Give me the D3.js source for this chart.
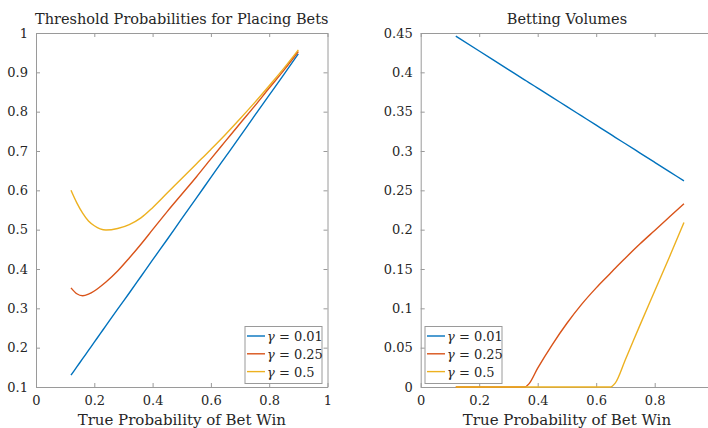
<!DOCTYPE html>
<html>
<head>
<meta charset="utf-8">
<script src="https://cdn.jsdelivr.net/npm/d3@7"></script>
<style>
  body { margin: 0; background: #fff; }
  .axis path, .axis line { stroke: #9a9a9a; }
</style>
</head>
<body>
<svg id="chart" width="708" height="428"></svg>
<script>
// series names + colours (matlab defaults)
var seriesNames = ["0.01", "0.25", "0.5"];
var seriesColors = ["#0072BD", "#D95319", "#EDB120"];

// left panel: threshold probabilities
var thrX = [0.12, 0.14, 0.16, 0.18, 0.2, 0.22, 0.24, 0.28, 0.32, 0.36, 0.4, 0.45, 0.5, 0.55, 0.6, 0.65, 0.7, 0.75, 0.8, 0.85, 0.9];
var thrLow = [0.130, 0.151, 0.172, 0.193, 0.214, 0.235, 0.256, 0.298, 0.339, 0.381, 0.423, 0.475, 0.528, 0.580, 0.633, 0.685, 0.737, 0.790, 0.842, 0.894, 0.947];
var thrMid = [0.352, 0.337, 0.332, 0.336, 0.344, 0.355, 0.367, 0.395, 0.428, 0.463, 0.500, 0.546, 0.590, 0.634, 0.680, 0.725, 0.770, 0.814, 0.860, 0.905, 0.953];
var thrHigh = [0.600, 0.568, 0.542, 0.522, 0.510, 0.502, 0.499, 0.503, 0.513, 0.530, 0.556, 0.593, 0.630, 0.667, 0.704, 0.742, 0.782, 0.823, 0.866, 0.910, 0.957];

// right panel: betting volumes
var volX = [0.12, 0.2, 0.3, 0.355, 0.37, 0.4, 0.45, 0.5, 0.55, 0.6, 0.647, 0.665, 0.7, 0.75, 0.8, 0.85, 0.9];
var volLow = [0.446, 0.4271, 0.4035, 0.3905, 0.3870, 0.3799, 0.3681, 0.3564, 0.3446, 0.3328, 0.3217, 0.3174, 0.3092, 0.2974, 0.2856, 0.2738, 0.262];
var volMid = [0, 0, 0, 0, 0.004, 0.024, 0.054, 0.081, 0.105, 0.126, 0.144, 0.151, 0.164, 0.182, 0.199, 0.216, 0.233];
var volHigh = [0, 0, 0, 0, 0, 0, 0, 0, 0, 0, 0, 0.005, 0.035, 0.079, 0.122, 0.165, 0.209];

var xTicks = [0, 0.2, 0.4, 0.6, 0.8, 1];
var thrTicks = [0.1, 0.2, 0.3, 0.4, 0.5, 0.6, 0.7, 0.8, 0.9, 1];
var volTicks = [0, 0.05, 0.1, 0.15, 0.2, 0.25, 0.3, 0.35, 0.4, 0.45];

var FONT = "DejaVu Serif";
var W = 708;

var svg = d3.select("#chart").attr("font-family", FONT);
var fmt = function(d) { return String(+d.toFixed(2)); };

function drawPanel(opts) {
    var x = d3.scaleLinear().domain([0, 1]).range([opts.left, opts.right]);
    var y = d3.scaleLinear().domain(opts.yDomain).range([387, 33]);
    var g = svg.append("g");

    // labels past the page edge are not shown in the original
    var xFmt = function(d) { return x(d) > W - 4 ? "" : fmt(d); };

    // box axes, ticks point inward
    g.append("g").attr("class", "axis").attr("transform", "translate(0,387)")
        .call(d3.axisBottom(x).tickValues(xTicks).tickFormat(xFmt).tickSizeInner(-4).tickSizeOuter(0).tickPadding(9));
    g.append("g").attr("class", "axis").attr("transform", "translate(0,33)")
        .call(d3.axisTop(x).tickValues(xTicks).tickFormat("").tickSizeInner(-4).tickSizeOuter(0));
    g.append("g").attr("class", "axis").attr("transform", "translate(" + opts.left + ",0)")
        .call(d3.axisLeft(y).tickValues(opts.yTicks).tickFormat(fmt).tickSizeInner(-4).tickSizeOuter(0).tickPadding(8));
    g.append("g").attr("class", "axis").attr("transform", "translate(" + opts.right + ",0)")
        .call(d3.axisRight(y).tickValues(opts.yTicks).tickFormat("").tickSizeInner(-4).tickSizeOuter(0));
    g.selectAll(".axis").attr("font-family", FONT).attr("font-size", 13);
    g.selectAll(".axis text").attr("fill", "#262626");

    var line = d3.line()
        .x(function(d) { return x(d[0]); })
        .y(function(d) { return y(d[1]); })
        .curve(d3.curveMonotoneX);

    opts.series.forEach(function(vals, i) {
        g.append("path")
            .datum(opts.xs.map(function(v, j) { return [v, vals[j]]; }))
            .attr("fill", "none")
            .attr("stroke", seriesColors[i])
            .attr("stroke-width", 1.4)
            .attr("d", line);
    });

    g.append("text")
        .attr("x", (opts.left + opts.right) / 2)
        .attr("y", 24)
        .attr("text-anchor", "middle")
        .attr("fill", "#262626")
        .attr("font-size", 14.5)
        .text(opts.title);

    g.append("text")
        .attr("x", (opts.left + opts.right) / 2)
        .attr("y", 425)
        .attr("text-anchor", "middle")
        .attr("fill", "#262626")
        .attr("font-size", 15)
        .text("True Probability of Bet Win");

    // legend
    var lg = g.append("g").attr("transform", "translate(" + opts.legend[0] + "," + opts.legend[1] + ")");
    lg.append("rect").attr("width", 77).attr("height", 57)
        .attr("fill", "#fff").attr("stroke", "#9a9a9a");
    seriesNames.forEach(function(name, i) {
        var row = lg.append("g").attr("transform", "translate(0," + (9.5 + i * 17.8) + ")");
        row.append("line").attr("x1", 2).attr("x2", 20)
            .attr("stroke", seriesColors[i]).attr("stroke-width", 1.4);
        var t = row.append("text").attr("x", 22).attr("y", 5)
            .attr("fill", "#262626")
            .attr("font-size", 13);
        t.append("tspan").attr("font-style", "italic").text("γ");
        t.append("tspan").text(" = " + name);
    });
}

drawPanel({
    left: 36, right: 327.5, yDomain: [0.1, 1], yTicks: thrTicks,
    xs: thrX, series: [thrLow, thrMid, thrHigh],
    title: "Threshold Probabilities for Placing Bets", legend: [245, 326.5]
});

drawPanel({
    left: 420.7, right: 713.2, yDomain: [0, 0.45], yTicks: volTicks,
    xs: volX, series: [volLow, volMid, volHigh],
    title: "Betting Volumes", legend: [425, 326.5]
});
</script>
</body>
</html>
